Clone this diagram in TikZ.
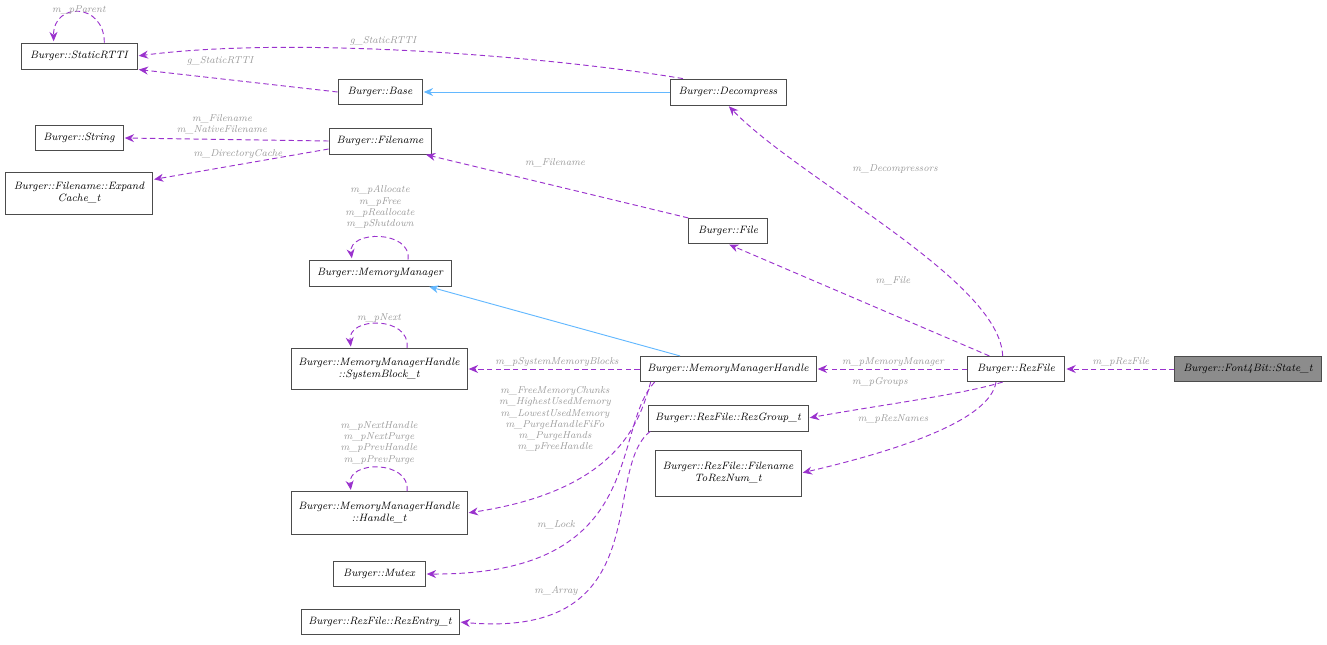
\documentclass[tikz,border=0pt]{standalone}
\usepackage{tikz}
\usetikzlibrary{arrows.meta}
\definecolor{dep}{HTML}{9A32CD}
\definecolor{inh}{HTML}{63B8FF}
\definecolor{lblgray}{HTML}{9A9A9A}
\begin{document}
\begin{tikzpicture}[x=0.75pt,y=-0.75pt,>={Stealth[length=7pt,width=6pt]},
    cls/.style={rectangle,draw=black!70,line width=0.6pt,fill=white,inner sep=1pt,align=center,
      font=\fontsize{8}{9}\selectfont\itshape},
    uses/.style={->,dep,line width=0.7pt,dash pattern=on 4pt off 2.5pt,shorten >=1pt},
    isa/.style={->,inh,line width=0.7pt,shorten >=1pt},
    lbl/.style={text=lblgray,align=center,inner sep=0pt,font=\fontsize{7.5}{8.3}\selectfont\itshape}]
  \useasboundingbox (0,0) rectangle (1327,645);

  \node[cls,minimum width=87pt,minimum height=19.5pt] (rtti) at (79,56) {Burger::StaticRTTI};
  \node[cls,minimum width=63pt,minimum height=19pt] (base) at (380,92) {Burger::Base};
  \node[cls,minimum width=87pt,minimum height=19.5pt] (decomp) at (728,92) {Burger::Decompress};
  \node[cls,minimum width=66pt,minimum height=19pt] (string) at (79,138) {Burger::String};
  \node[cls,minimum width=76.5pt,minimum height=19.5pt] (fname) at (380,141) {Burger::Filename};
  \node[cls,minimum width=110pt,minimum height=31.5pt] (expand) at (79,193) {Burger::Filename::Expand\\Cache\_t};
  \node[cls,minimum width=59pt,minimum height=19pt] (file) at (728,231) {Burger::File};
  \node[cls,minimum width=106.5pt,minimum height=19.5pt] (memmgr) at (380,273) {Burger::MemoryManager};
  \node[cls,minimum width=132pt,minimum height=31pt] (sysblk) at (379,369) {Burger::MemoryManagerHandle\\::SystemBlock\_t};
  \node[cls,minimum width=132pt,minimum height=19pt] (mmh) at (728,369) {Burger::MemoryManagerHandle};
  \node[cls,minimum width=73pt,minimum height=19pt] (rez) at (1016,369) {Burger::RezFile};
  \node[cls,minimum width=110pt,minimum height=19pt,fill=black!45] (state) at (1248,369) {Burger::Font4Bit::State\_t};
  \node[cls,minimum width=120pt,minimum height=19.5pt] (group) at (728,418) {Burger::RezFile::RezGroup\_t};
  \node[cls,minimum width=109.5pt,minimum height=34.5pt] (tonum) at (728,473) {Burger::RezFile::Filename\\ToRezNum\_t};
  \node[cls,minimum width=132pt,minimum height=32pt] (handle) at (379,513) {Burger::MemoryManagerHandle\\::Handle\_t};
  \node[cls,minimum width=69pt,minimum height=19pt] (mutex) at (379,574) {Burger::Mutex};
  \node[cls,minimum width=118.5pt,minimum height=19pt] (entry) at (380,622) {Burger::RezFile::RezEntry\_t};

  % self references
  \draw[uses] ([xshift=19pt]rtti.north) .. controls (104,2) and (53,2) .. ([xshift=-19pt]rtti.north);
  \node[lbl] (l1) at (79,10) {m\_pParent};
  \draw[uses] ([xshift=21pt]memmgr.north) .. controls (412,230) and (348,230) .. ([xshift=-21pt]memmgr.north);
  \node[lbl] (l2) at (380,207) {m\_pAllocate\\m\_pFree\\m\_pReallocate\\m\_pShutdown};
  \draw[uses] ([xshift=21pt]sysblk.north) .. controls (411,316) and (347,316) .. ([xshift=-21pt]sysblk.north);
  \node[lbl] (l3) at (379,318) {m\_pNext};
  \draw[uses] ([xshift=21pt]handle.north) .. controls (411,460) and (347,460) .. ([xshift=-21pt]handle.north);
  \node[lbl] (l4) at (379,443) {m\_pNextHandle\\m\_pNextPurge\\m\_pPrevHandle\\m\_pPrevPurge};

  % inheritance
  \draw[isa] (decomp) -- (base);
  \draw[isa] ([xshift=-36pt]mmh.north) -- ([xshift=36pt]memmgr.south);

  % members
  \draw[uses] ([xshift=10pt]decomp.north west) .. controls (560,58) and (300,35) .. (rtti.east);
  \node[lbl] (l5) at (383,41) {g\_StaticRTTI};
  \draw[uses] (base.west) -- (rtti.south east);
  \node[lbl] (l6) at (220,61) {g\_StaticRTTI};
  \draw[uses] (fname.west) -- (string.east);
  \node[lbl] (l7) at (222,124) {m\_Filename\\m\_NativeFilename};
  \draw[uses] ([yshift=-6pt]fname.west) -- ([yshift=-6pt]expand.north east);
  \node[lbl] (l8) at (238,154) {m\_DirectoryCache};
  \draw[uses] (file.north west) -- ([xshift=-5pt]fname.south east);
  \node[lbl] (l9) at (555,163) {m\_Filename};
  \draw[uses] (mmh.west) -- (sysblk.east);
  \node[lbl] (l10) at (557,362) {m\_pSystemMemoryBlocks};
  \draw[uses] ([xshift=-58pt]mmh.south) .. controls (640,420) and (620,490) .. (handle.east);
  \node[lbl] (l11) at (555,419) {m\_FreeMemoryChunks\\m\_HighestUsedMemory\\m\_LowestUsedMemory\\m\_PurgeHandleFiFo\\m\_PurgeHands\\m\_pFreeHandle};
  \draw[uses] ([xshift=-55pt]mmh.south) .. controls (610,430) and (650,575) .. (mutex.east);
  \node[lbl] (l12) at (556,525) {m\_Lock};
  \draw[uses] ([xshift=2pt]group.south west) .. controls (600,470) and (660,640) .. (entry.east);
  \node[lbl] (l13) at (556,591) {m\_Array};
  \draw[uses] ([xshift=-10pt]rez.north) .. controls (1000,280) and (800,180) .. (decomp.south);
  \node[lbl] (l14) at (895,169) {m\_Decompressors};
  \draw[uses] ([xshift=-20pt]rez.north) -- (file.south);
  \node[lbl] (l15) at (893,281) {m\_File};
  \draw[uses] (rez.west) -- (mmh.east);
  \node[lbl] (l16) at (893,362) {m\_pMemoryManager};
  \draw[uses] ([xshift=-10pt]rez.south) .. controls (960,395) and (880,405) .. (group.east);
  \node[lbl] (l17) at (880,382) {m\_pGroups};
  \draw[uses] ([xshift=-15pt]rez.south) .. controls (990,420) and (900,450) .. (tonum.east);
  \node[lbl] (l18) at (893,419) {m\_pRezNames};
  \draw[uses] (state.west) -- (rez.east);
  \node[lbl] (l19) at (1121,362) {m\_pRezFile};
\end{tikzpicture}
\end{document}
